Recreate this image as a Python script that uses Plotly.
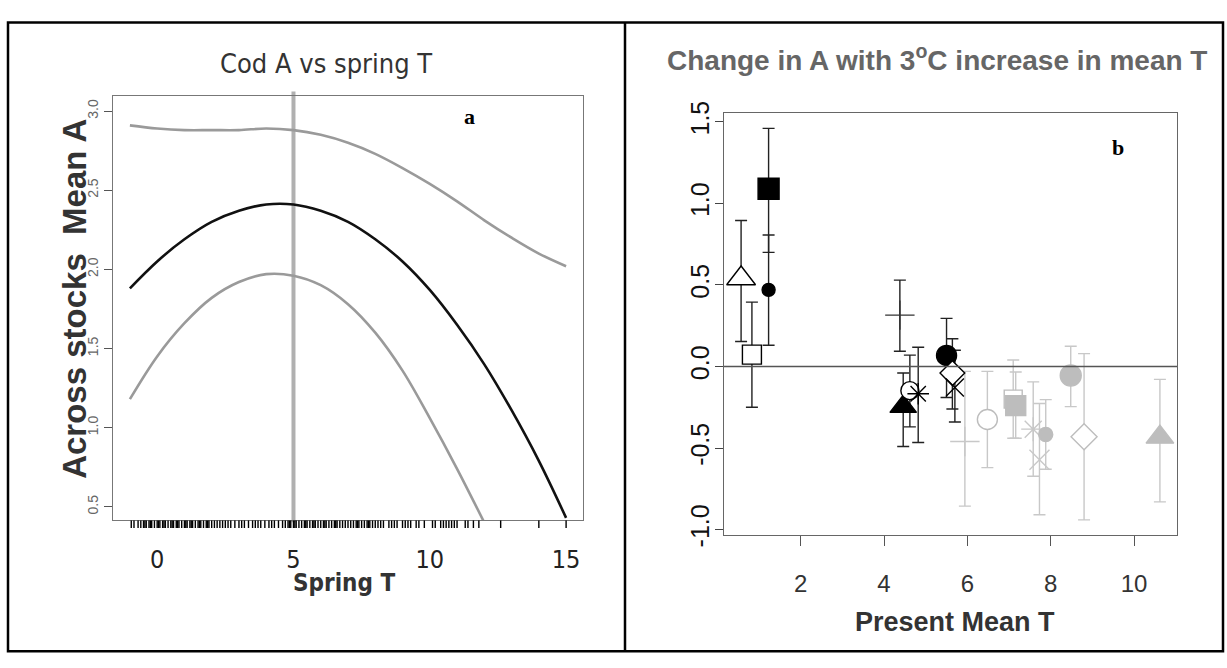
import plotly.graph_objects as go

# ---------------- Panel a : Cod A vs spring T ----------------
spring_T = [-1, 0, 1, 2, 3, 4, 5, 6, 7, 8, 9, 10, 11, 12, 13, 14, 15]
mean_A = [1.88, 2.05, 2.19, 2.30, 2.37, 2.41, 2.41, 2.37, 2.30, 2.19, 2.05, 1.87, 1.65, 1.40, 1.11, 0.79, 0.43]
upper_A = [2.91, 2.89, 2.88, 2.88, 2.88, 2.89, 2.88, 2.85, 2.80, 2.73, 2.64, 2.54, 2.43, 2.31, 2.20, 2.10, 2.02]
lower_T = [-1, 0, 1, 2, 3, 4, 5, 6, 7, 8, 9, 10, 11, 12]
lower_A = [1.18, 1.45, 1.66, 1.82, 1.92, 1.97, 1.96, 1.90, 1.78, 1.60, 1.36, 1.06, 0.74, 0.40]
rug_T = [-0.95, -0.85, -0.7, -0.6, -0.5, -0.45, -0.4, -0.3, -0.25, -0.2, -0.1, 0.0, 0.05, 0.1,
         0.2, 0.25, 0.3, 0.4, 0.5, 0.55, 0.6, 0.7, 0.75, 0.8, 0.9, 1.0, 1.05, 1.1, 1.2, 1.25,
         1.3, 1.4, 1.5, 1.55, 1.6, 1.7, 1.8, 1.85, 1.9, 2.0, 2.1, 2.2, 2.3, 2.4, 2.5, 2.6, 2.7,
         2.85, 3.0, 3.1, 3.2, 3.35, 3.5, 3.6, 3.7, 3.8, 3.95, 4.1, 4.2, 4.3, 4.45, 4.6, 4.7,
         4.8, 4.85, 4.9, 5.0, 5.05, 5.1, 5.2, 5.3, 5.4, 5.45, 5.5, 5.6, 5.7, 5.75, 5.8, 5.9,
         6.0, 6.1, 6.15, 6.2, 6.3, 6.4, 6.5, 6.55, 6.6, 6.7, 6.8, 6.9, 7.0, 7.1, 7.2, 7.3,
         7.35, 7.4, 7.5, 7.6, 7.7, 7.75, 7.8, 7.9, 8.0, 8.1, 8.2, 8.3, 8.5, 8.6, 8.7, 8.8,
         9.0, 9.1, 9.2, 9.3, 9.5, 9.6, 9.8, 10.1, 10.2, 10.4, 10.5, 10.6, 10.7, 10.8, 10.9,
         11.0, 11.3, 11.4, 11.6, 11.8, 12.6, 14.0, 15.0]
ref_T = 5
a_xticks = [0, 5, 10, 15]
a_yticks = [0.5, 1.0, 1.5, 2.0, 2.5, 3.0]

# ---------------- Panel b : change in A with +3 C ----------------
blk_T = [0.57, 0.83, 1.23, 1.23, 4.38, 4.46, 4.62, 4.82, 5.50, 5.64, 5.70]
blk_A = [0.54, 0.073, 1.09, 0.47, 0.315, -0.246, -0.148, -0.167, 0.068, -0.04, -0.128]
blk_lo = [0.153, -0.25, 0.70, 0.13, 0.094, -0.49, -0.37, -0.466, -0.19, -0.26, -0.34]
blk_hi = [0.895, 0.395, 1.46, 0.806, 0.53, -0.04, 0.07, 0.118, 0.295, 0.17, 0.10]

gry_T = [5.94, 6.48, 7.10, 7.16, 7.58, 7.73, 7.88, 8.48, 8.80, 10.62]
gry_A = [-0.46, -0.325, -0.20, -0.24, -0.384, -0.571, -0.417, -0.055, -0.43, -0.433]
gry_lo = [-0.856, -0.62, -0.44, -0.44, -0.673, -0.909, -0.63, -0.246, -0.94, -0.83]
gry_hi = [-0.03, -0.03, 0.04, -0.034, -0.094, -0.227, -0.203, 0.124, 0.079, -0.079]
b_xticks = [2, 4, 6, 8, 10]
b_yticks = [-1.0, -0.5, 0.0, 0.5, 1.0, 1.5]
b_yticktext = ["-1.0", "-0.5", "0.0", "0.5", "1.0", "1.5"]

# ---------------- styles ----------------
GREY = "#bdbdbd"
GREY_L = "#c8c8c8"
blk_sym = ["triangle-up", "square", "square", "circle", "cross-thin-open", "triangle-up",
           "circle", "asterisk-open", "circle", "diamond", "x-thin-open"]
blk_fill = ["white", "white", "black", "black", "#333333", "black", "white", "black", "black", "white", "black"]
blk_size = [25, 19, 21, 13, 21, 23, 18, 18, 20, 19, 18]
gry_sym = ["cross-thin-open", "circle", "square", "square", "asterisk-open", "x-thin-open",
           "circle", "circle", "diamond", "triangle-up"]
gry_fill = [GREY_L, "white", "white", GREY, GREY_L, GREY_L, GREY, GREY, "white", GREY]
gry_size = [21, 20, 18, 20, 20, 20, 14, 21, 20, 24]

W, H = 1227, 668


def fx(p):
    return p / W


def fy(p):
    return 1 - p / H


NARROW = "Liberation Sans Narrow, Arial Narrow, DejaVu Sans Condensed, sans-serif"
SANS = "Liberation Sans, Arial, sans-serif"
SERIF = "Liberation Serif, Times New Roman, serif"

# axis ranges (R style 4% padding)
a_xr = [-1.62, 15.62]
a_yr = [0.415, 3.097]
b_xr = [0.16, 11.03]
b_yr = [-1.031, 1.554]

fig = go.Figure()

# panel a curves
fig.add_trace(go.Scatter(x=spring_T, y=upper_A, mode="lines", line=dict(color="#9a9a9a", width=2.6, shape="spline"),
                         xaxis="x", yaxis="y", showlegend=False, hoverinfo="skip"))
fig.add_trace(go.Scatter(x=lower_T, y=lower_A, mode="lines", line=dict(color="#9a9a9a", width=2.6, shape="spline"),
                         xaxis="x", yaxis="y", showlegend=False, hoverinfo="skip"))
fig.add_trace(go.Scatter(x=spring_T, y=mean_A, mode="lines", line=dict(color="#111111", width=2.6, shape="spline"),
                         xaxis="x", yaxis="y", showlegend=False, hoverinfo="skip"))
# rug on its own thin axis just under panel a
rug_x, rug_y = [], []
for t in rug_T:
    rug_x += [t, t, None]
    rug_y += [0, 1, None]
fig.add_trace(go.Scatter(x=rug_x, y=rug_y, mode="lines", line=dict(color="black", width=1.4),
                         xaxis="x", yaxis="y3", showlegend=False, hoverinfo="skip"))

# panel b points
fig.add_trace(go.Scatter(
    x=gry_T, y=gry_A, mode="markers", xaxis="x2", yaxis="y2", showlegend=False,
    error_y=dict(type="data", symmetric=False,
                 array=[h - a for h, a in zip(gry_hi, gry_A)],
                 arrayminus=[a - l for a, l in zip(gry_A, gry_lo)],
                 color=GREY_L, thickness=1.4, width=6),
    marker=dict(symbol=gry_sym, color=gry_fill, size=gry_size, opacity=1,
                line=dict(color=GREY, width=1.4))))
fig.add_trace(go.Scatter(
    x=blk_T, y=blk_A, mode="markers", xaxis="x2", yaxis="y2", showlegend=False,
    error_y=dict(type="data", symmetric=False,
                 array=[h - a for h, a in zip(blk_hi, blk_A)],
                 arrayminus=[a - l for a, l in zip(blk_A, blk_lo)],
                 color="#222222", thickness=1.4, width=6),
    marker=dict(symbol=blk_sym, color=blk_fill, size=blk_size, opacity=1,
                line=dict(color="black", width=1.4))))

shapes = [
    # vertical reference line in panel a
    dict(type="line", xref="x", yref="y domain", x0=ref_T, x1=ref_T, y0=-0.005, y1=1.01,
         line=dict(color="#b0b0b0", width=4), layer="below"),
    # zero line in panel b
    dict(type="line", xref="x2 domain", yref="y2", x0=0, x1=1, y0=0, y1=0,
         line=dict(color="#555555", width=1.3)),
    # outer frame and divider
    dict(type="rect", xref="paper", yref="paper", x0=fx(8), x1=fx(1223), y0=fy(664), y1=fy(11),
         line=dict(color="black", width=2.5)),
    dict(type="line", xref="paper", yref="paper", x0=fx(625), x1=fx(625), y0=fy(664), y1=fy(11),
         line=dict(color="black", width=2.5)),
]

annotations = [
    dict(text="Cod A vs spring T", x=fx(326), y=fy(54), xref="paper", yref="paper", showarrow=False,
         xanchor="center", yanchor="middle", font=dict(family=NARROW, size=27, color="#333333")),
    dict(text="<b>Across stocks  Mean A</b>", x=fx(75), y=fy(298), xref="paper", yref="paper", showarrow=False,
         xanchor="center", yanchor="middle", textangle=-90, font=dict(family=SANS, size=33, color="#333333")),
    dict(text="<b>Spring T</b>", x=fx(344), y=fy(593), xref="paper", yref="paper", showarrow=False,
         xanchor="center", yanchor="middle", font=dict(family=NARROW, size=24, color="#333333")),
    dict(text="<b>a</b>", x=fx(469), y=fy(109), xref="paper", yref="paper", showarrow=False,
         xanchor="center", yanchor="middle", font=dict(family=SERIF, size=22, color="black")),
    dict(text="<b>Change in A with 3<sup>o</sup>C increase in mean T</b>", x=fx(937), y=fy(48), xref="paper",
         yref="paper", showarrow=False, xanchor="center", yanchor="middle",
         font=dict(family=SANS, size=28, color="#666666")),
    dict(text="<b>Present Mean T</b>", x=fx(955), y=fy(634), xref="paper", yref="paper", showarrow=False,
         xanchor="center", yanchor="middle", font=dict(family=SANS, size=27, color="#333333")),
    dict(text="<b>b</b>", x=fx(1118), y=fy(141), xref="paper", yref="paper", showarrow=False,
         xanchor="center", yanchor="middle", font=dict(family=SERIF, size=22, color="black")),
]

fig.update_layout(
    width=W, height=H, margin=dict(l=0, r=0, t=0, b=0),
    paper_bgcolor="white", plot_bgcolor="white",
    shapes=shapes, annotations=annotations,
    xaxis=dict(domain=[fx(113), fx(583)], range=a_xr, anchor="y", showgrid=False, zeroline=False,
               showline=True, mirror=True, linecolor="#777777", linewidth=1.3,
               tickvals=a_xticks, ticks="", ticklabelstandoff=17,
               tickfont=dict(family=NARROW, size=25, color="#222222")),
    yaxis=dict(domain=[fy(528), fy(87)], range=a_yr, anchor="x", showgrid=False, zeroline=False,
               showline=True, mirror=True, linecolor="#777777", linewidth=1.3,
               tickvals=a_yticks, tickformat=".1f", ticks="outside", ticklen=8, tickcolor="#555555",
               tickangle=-90, tickfont=dict(family=SANS, size=14, color="#666666")),
    yaxis3=dict(domain=[fy(536), fy(528)], range=[0, 1], anchor="x", visible=False, fixedrange=True),
    xaxis2=dict(domain=[fx(724), fx(1177)], range=b_xr, anchor="y2", showgrid=False, zeroline=False,
                showline=True, mirror=True, linecolor="#666666", linewidth=1.3,
                tickvals=b_xticks, ticks="outside", ticklen=10, tickcolor="#555555",
                ticklabelstandoff=17,
                tickfont=dict(family=SANS, size=24, color="#333333")),
    yaxis2=dict(domain=[fy(543), fy(105)], range=b_yr, anchor="x2", showgrid=False, zeroline=False,
                showline=True, mirror=True, linecolor="#666666", linewidth=1.3,
                tickvals=b_yticks, ticktext=b_yticktext, ticks="outside", ticklen=8, tickcolor="#444444",
                ticklabelstandoff=-4,
                tickangle=-90, tickfont=dict(family=SANS, size=25, color="#111111")),
)

fig.write_html("out.html")
